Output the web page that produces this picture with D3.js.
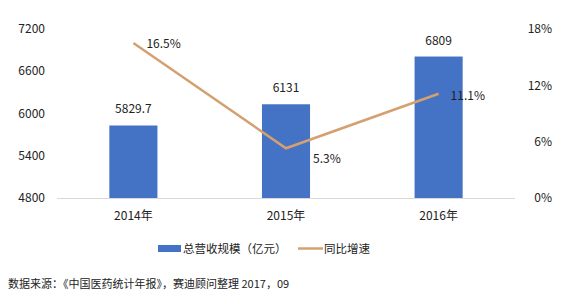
<!DOCTYPE html>
<html>
<head>
<meta charset="utf-8">
<script src="https://cdn.jsdelivr.net/npm/d3@7"></script>
<style>
  body { margin: 0; background: #fff; }
  text { font-family: "Microsoft YaHei", "Noto Sans CJK SC", sans-serif; fill: #222; }
</style>
</head>
<body>
<div id="chart"></div>
<script>
const years = ['2014年', '2015年', '2016年'];
const revenue = [5829.7, 6131, 6809];
const growth = [16.5, 5.3, 11.1];
const revenueTicks = [4800, 5400, 6000, 6600, 7200];
const growthTicks = [0, 6, 12, 18];

const width = 572, height = 304;
const plot = { left: 57, right: 515, top: 29, bottom: 198 };
const barColor = '#4472C4';
const lineColor = '#D4A070';

const svg = d3.select('#chart').append('svg')
  .attr('width', width)
  .attr('height', height);

const x = d3.scaleBand()
  .domain(years)
  .range([plot.left, plot.right])
  .paddingInner(0.685)
  .paddingOuter(0.343);

const y = d3.scaleLinear().domain([4800, 7200]).range([plot.bottom, plot.top]);
const y2 = d3.scaleLinear().domain([0, 18]).range([plot.bottom, plot.top]);

// left axis labels
svg.append('g').selectAll('text')
  .data(revenueTicks)
  .join('text')
  .attr('x', 45)
  .attr('y', d => y(d))
  .attr('dy', '0.35em')
  .attr('text-anchor', 'end')
  .style('font-size', '12px')
  .text(d => d);

// right axis labels
svg.append('g').selectAll('text')
  .data(growthTicks)
  .join('text')
  .attr('x', 552)
  .attr('y', d => y2(d))
  .attr('dy', '0.35em')
  .attr('text-anchor', 'end')
  .style('font-size', '12px')
  .text(d => d + '%');

// bars
svg.append('g').selectAll('rect')
  .data(revenue)
  .join('rect')
  .attr('x', (d, i) => x(years[i]))
  .attr('y', d => y(d))
  .attr('width', x.bandwidth())
  .attr('height', d => y(4800) - y(d))
  .attr('fill', barColor);

// baseline
svg.append('line')
  .attr('x1', plot.left).attr('x2', plot.right)
  .attr('y1', plot.bottom + 0.5).attr('y2', plot.bottom + 0.5)
  .attr('stroke', '#d9d9d9');

// category labels
svg.append('g').selectAll('text')
  .data(years)
  .join('text')
  .attr('x', d => x(d) + x.bandwidth() / 2)
  .attr('y', 220)
  .attr('text-anchor', 'middle')
  .style('font-size', '12px')
  .text(d => d);

// bar value labels
svg.append('g').selectAll('text')
  .data(revenue)
  .join('text')
  .attr('x', (d, i) => x(years[i]) + x.bandwidth() / 2)
  .attr('y', d => y(d) - 12)
  .attr('text-anchor', 'middle')
  .style('font-size', '12px')
  .text(d => d);

// growth line
const cx = i => x(years[i]) + x.bandwidth() / 2;
svg.append('path')
  .datum(growth)
  .attr('d', d3.line().x((d, i) => cx(i)).y(d => y2(d)))
  .attr('fill', 'none')
  .attr('stroke', lineColor)
  .attr('stroke-width', 2.5);

// growth labels
const labelOffsets = [[13, 1], [27, 11], [12, 2]];
svg.append('g').selectAll('text')
  .data(growth)
  .join('text')
  .attr('x', (d, i) => cx(i) + labelOffsets[i][0])
  .attr('y', (d, i) => y2(d) + labelOffsets[i][1])
  .attr('dy', '0.35em')
  .style('font-size', '12px')
  .text(d => d + '%');

// legend
const legend = svg.append('g');
legend.append('rect')
  .attr('x', 158).attr('y', 245).attr('width', 23).attr('height', 7)
  .attr('fill', barColor);
legend.append('text')
  .attr('x', 183).attr('y', 249).attr('dy', '0.35em')
  .style('font-size', '11.5px')
  .text('总营收规模（亿元）');
legend.append('line')
  .attr('x1', 298).attr('x2', 323).attr('y1', 248.5).attr('y2', 248.5)
  .attr('stroke', lineColor).attr('stroke-width', 2.5);
legend.append('text')
  .attr('x', 324).attr('y', 249).attr('dy', '0.35em')
  .style('font-size', '11.5px')
  .text('同比增速');

// source note
svg.append('text')
  .attr('x', 8).attr('y', 284).attr('dy', '0.35em')
  .style('font-size', '11px')
  .text('数据来源：《中国医药统计年报》，赛迪顾问整理 2017，09');
</script>
</body>
</html>
